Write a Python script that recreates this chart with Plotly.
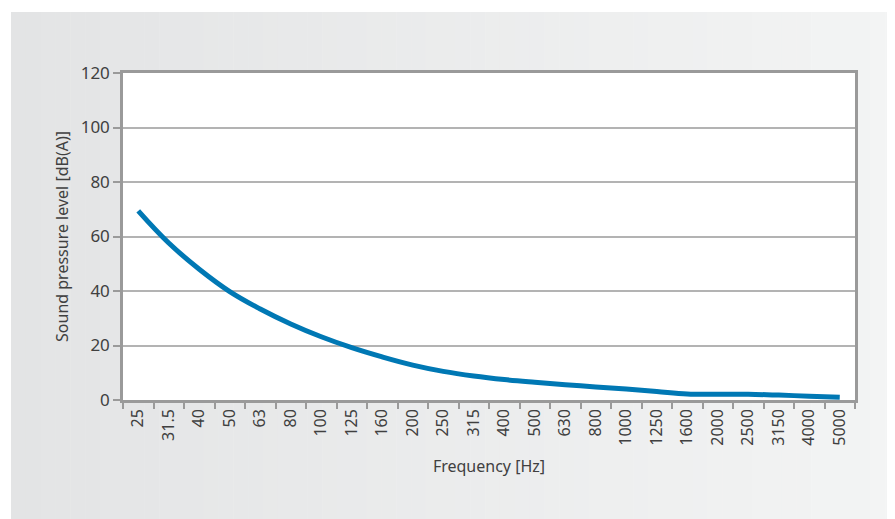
import plotly.graph_objects as go

frequencies = ["25", "31.5", "40", "50", "63", "80", "100", "125", "160", "200", "250", "315",
               "400", "500", "630", "800", "1000", "1250", "1600", "2000", "2500", "3150", "4000", "5000"]
spl_dba = [69.4, 57.6, 48.0, 39.8, 33.4, 27.9, 23.2, 19.2, 15.8, 12.8, 10.5, 8.8,
           7.5, 6.5, 5.6, 4.8, 4.0, 3.1, 2.2, 2.1, 2.1, 1.8, 1.4, 1.0]
y_ticks = [0, 20, 40, 60, 80, 100, 120]

# page is offset by the default 8px body margin
OFF = 8
W, H = 895 - OFF, 519 - OFF
L, R, T, B = 123 - OFF, 40, 73 - OFF, 119
pw, ph = W - L - R, H - T - B

def px_x(x):
    return (x - OFF - L) / pw

def px_y(y):
    return (H - B - (y - OFF)) / ph

fig = go.Figure()
fig.add_trace(go.Scatter(
    x=frequencies, y=spl_dba, mode="lines",
    line=dict(color="#0078b4", width=5, shape="spline", smoothing=1.1),
    hoverinfo="skip", showlegend=False,
))

# background gradient panel
shapes = []
n = 60
x_start, x_end = 11, 900
c0 = (227, 228, 229)
c1 = (243, 244, 244)
for i in range(n):
    xa = x_start + (x_end - x_start) * i / n
    xb = x_start + (x_end - x_start) * (i + 1) / n + 0.5
    t = i / (n - 1)
    col = "rgb(%d,%d,%d)" % tuple(round(c0[k] + (c1[k] - c0[k]) * t) for k in range(3))
    shapes.append(dict(type="rect", xref="paper", yref="paper", layer="below",
                       x0=px_x(xa), x1=px_x(xb), y0=px_y(530), y1=px_y(12),
                       fillcolor=col, line=dict(width=0)))
shapes.append(dict(type="rect", xref="paper", yref="paper", layer="below",
                   x0=0, x1=1, y0=0, y1=1, fillcolor="white", line=dict(width=0)))

font_family = "Noto Sans, Open Sans, sans-serif"
txt = "#404040"
fig.update_layout(
    width=W, height=H,
    margin=dict(l=L, r=R, t=T, b=B),
    paper_bgcolor="white", plot_bgcolor="white",
    shapes=shapes,
    font=dict(family=font_family, color=txt, size=16),
    xaxis=dict(
        type="category", range=[-0.5, len(frequencies) - 0.5],
        tickson="boundaries", ticks="outside", ticklen=6, tickwidth=1.5, tickcolor="#9a9a9a",
        tickangle=-90, tickfont=dict(size=16, color=txt),
        showline=True, linecolor="#9a9a9a", linewidth=2.5, mirror=True,
        showgrid=False, zeroline=False,
        title=dict(text="Frequency [Hz]", font=dict(size=16, color=txt), standoff=17),
        fixedrange=True,
    ),
    yaxis=dict(
        range=[0, 120], tickvals=y_ticks, ticks="outside", ticklen=7, tickwidth=1.5,
        tickcolor="#9a9a9a", tickfont=dict(size=17, color=txt),
        showline=True, linecolor="#9a9a9a", linewidth=2.5, mirror=True,
        showgrid=True, gridcolor="#b3b3b3", gridwidth=1.5, zeroline=False,
        title=dict(text="Sound pressure level [dB(A)]", font=dict(size=16, color=txt), standoff=9),
        fixedrange=True,
    ),
)

fig.write_html("out.html")
